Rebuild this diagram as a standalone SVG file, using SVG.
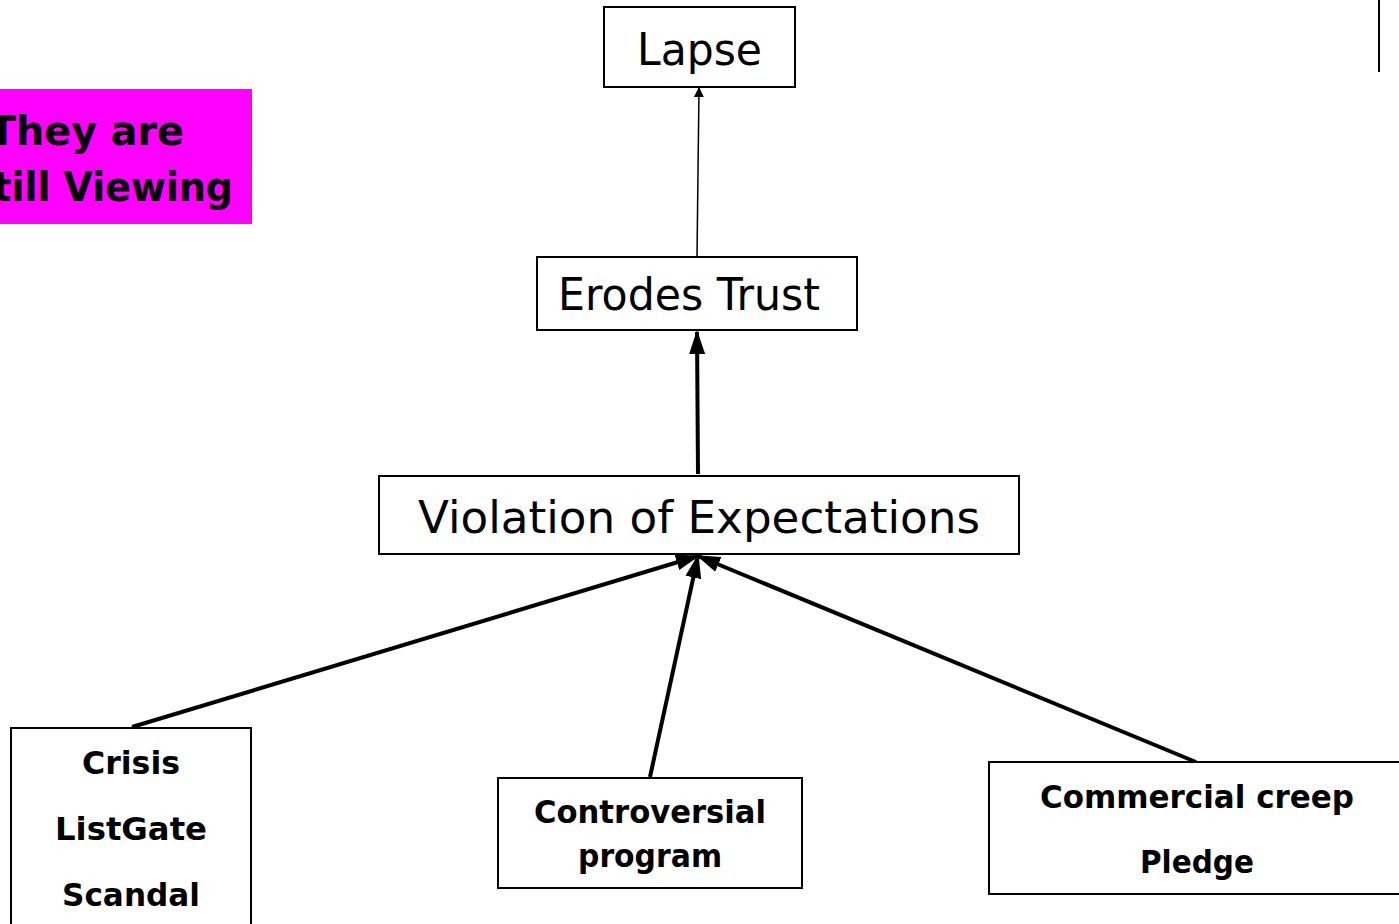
<svg xmlns="http://www.w3.org/2000/svg" width="1399" height="924" viewBox="0 0 1399 924">
<defs>
<style>
.box{fill:#fff;stroke:#000;stroke-width:2}
.t{font-family:"Comic Sans MS","DejaVu Sans",sans-serif;fill:#000}
.big{font-size:44px}
.b{font-size:32px;font-weight:bold;text-anchor:middle}
.mg{font-size:40px;font-weight:bold;text-anchor:end}
.c{stroke:#000;fill:none}
</style>
<marker id="ah" markerWidth="10" markerHeight="12" refX="9" refY="6" orient="auto" markerUnits="userSpaceOnUse">
<path d="M0,1 L10,6 L0,11 z" fill="#000"/>
</marker>
<marker id="ahb" markerWidth="24" markerHeight="20" refX="22" refY="10" orient="auto" markerUnits="userSpaceOnUse">
<path d="M0,2 L24,10 L0,18 z" fill="#000"/>
</marker>
</defs>
<rect width="1399" height="924" fill="#fff"/>
<line x1="1379" y1="0" x2="1379" y2="72" stroke="#000" stroke-width="2"/>
<g id="note">
<rect x="0" y="89" width="252" height="135" fill="#ff00ff"/>
<text class="t mg" x="184" y="145" textLength="195" lengthAdjust="spacingAndGlyphs">They are</text>
<text class="t mg" x="233" y="201" textLength="267" lengthAdjust="spacingAndGlyphs">Still Viewing</text>
</g>
<g id="connectors">
<line class="c" x1="697" y1="257" x2="699" y2="88" stroke-width="1.5" marker-end="url(#ah)"/>
<line class="c" x1="698" y1="474" x2="697" y2="332" stroke-width="4" marker-end="url(#ahb)"/>
<line class="c" x1="132" y1="727" x2="698" y2="556" stroke-width="4" marker-end="url(#ahb)"/>
<line class="c" x1="650" y1="777" x2="698" y2="556" stroke-width="4" marker-end="url(#ahb)"/>
<line class="c" x1="1196" y1="762" x2="698" y2="556" stroke-width="4" marker-end="url(#ahb)"/>
</g>
<g id="lapse">
<rect class="box" x="604" y="7" width="191" height="80"/>
<text class="t big" x="637" y="65" textLength="125" lengthAdjust="spacingAndGlyphs">Lapse</text>
</g>
<g id="erodes">
<rect class="box" x="537" y="257" width="320" height="73"/>
<text class="t big" x="558" y="310" textLength="262" lengthAdjust="spacingAndGlyphs">Erodes Trust</text>
</g>
<g id="violation">
<rect class="box" x="379" y="476" width="640" height="78"/>
<text class="t big" x="418" y="533" textLength="562" lengthAdjust="spacingAndGlyphs">Violation of Expectations</text>
</g>
<g id="crisis">
<rect class="box" x="11" y="728" width="240" height="210"/>
<text class="t b" x="131" y="774" textLength="98" lengthAdjust="spacingAndGlyphs">Crisis</text>
<text class="t b" x="131" y="840" textLength="152" lengthAdjust="spacingAndGlyphs">ListGate</text>
<text class="t b" x="131" y="906" textLength="138" lengthAdjust="spacingAndGlyphs">Scandal</text>
</g>
<g id="controversial">
<rect class="box" x="498" y="778" width="304" height="110"/>
<text class="t b" x="650" y="823" textLength="232" lengthAdjust="spacingAndGlyphs">Controversial</text>
<text class="t b" x="650" y="867" textLength="144" lengthAdjust="spacingAndGlyphs">program</text>
</g>
<g id="commercial">
<rect class="box" x="989" y="762" width="430" height="132"/>
<text class="t b" x="1197" y="808" textLength="314" lengthAdjust="spacingAndGlyphs">Commercial creep</text>
<text class="t b" x="1197" y="873" textLength="114" lengthAdjust="spacingAndGlyphs">Pledge</text>
</g>
</svg>
